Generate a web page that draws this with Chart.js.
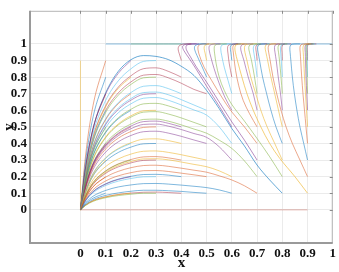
<!DOCTYPE html>
<html><head><meta charset="utf-8">
<script src="https://cdn.jsdelivr.net/npm/chart.js@4.4.1/dist/chart.umd.min.js"></script>
<style>html,body{margin:0;padding:0;background:#fff}</style>
</head><body>
<canvas id="c" width="339" height="272"></canvas>
<script>
// ---- tick values / labels ----
const xTicks=[0,0.1,0.2,0.3,0.4,0.5,0.6,0.7,0.8,0.9,1];
const xTickLabels=['0','0.1','0.2','0.3','0.4','0.5','0.6','0.7','0.8','0.9','1'];
const yTicks=[0,0.1,0.2,0.3,0.4,0.5,0.6,0.7,0.8,0.9,1];
const yTickLabels=['0','0.1','0.2','0.3','0.4','0.5','0.6','0.7','0.8','0.9','1'];

// ---- shared x sampling for trajectories that end at the origin ----
const xGrid=[0,0.02,0.05,0.1,0.15,0.2,0.25,0.3,0.35,0.4,0.45,0.5,0.55,0.6,0.65,0.7,0.75,0.8];

// trajectories starting at x0=0.1
const arcs01=[[0,.036,.07,.1],[0,.072,.14,.2],[0,.108,.21,.3],[0,.144,.28,.4],[0,.18,.35,.5],[0,.216,.42,.6],[0,.252,.49,.7],[0,.288,.56,.8],[0,.324,.63,.9]];
// x0=0.2
const arcs02=[[0,.028,.054,.078,.092,.1],[0,.055,.109,.155,.183,.2],[0,.083,.163,.233,.275,.3],[0,.111,.217,.311,.366,.4],[0,.138,.271,.388,.457,.5],[0,.166,.326,.466,.549,.6],[0,.194,.38,.544,.64,.7],[0,.222,.434,.621,.732,.8],[0,.249,.489,.699,.823,.9]];
// x0=0.3
const arcs03=[[0,.026,.051,.073,.086,.094,.1,.1],[0,.052,.103,.147,.173,.189,.199,.2],[0,.078,.154,.22,.259,.283,.298,.3],[0,.104,.205,.293,.346,.378,.398,.4],[0,.131,.256,.367,.432,.472,.497,.5],[0,.157,.308,.44,.518,.567,.597,.6],[0,.183,.359,.514,.605,.661,.696,.7],[0,.209,.41,.587,.691,.756,.796,.8],[0,.235,.462,.66,.778,.85,.895,.9]];
// x0=0.4
const arcs04=[[0,.028,.055,.078,.092,.101,.106,.107,.104,.1],[0,.056,.11,.157,.185,.202,.213,.214,.209,.2],[0,.084,.165,.235,.277,.303,.319,.321,.313,.3],[0,.112,.219,.314,.37,.404,.426,.428,.417,.4],[0,.14,.274,.392,.462,.505,.532,.535,.521,.5],[0,.168,.329,.471,.555,.606,.639,.642,.626,.6],[0,.196,.384,.549,.647,.707,.745,.749,.73,.7],[0,.224,.439,.628,.74,.808,.851,.856,.834,.8]];
// x0=0.5
const arcs05=[[0,.031,.061,.087,.102,.112,.118,.118,.115,.111,.105,.1],[0,.062,.121,.174,.205,.224,.236,.237,.231,.221,.211,.2],[0,.093,.182,.261,.307,.336,.353,.355,.346,.332,.316,.3],[0,.124,.243,.348,.41,.448,.471,.474,.462,.443,.421,.4],[0,.155,.304,.435,.512,.559,.589,.592,.577,.554,.527,.5],[0,.186,.364,.521,.614,.671,.707,.71,.693,.664,.632,.6],[0,.213,.418,.599,.705,.771,.812,.816,.795,.763,.726,.7]];
// x0>=0.6 ending at origin
const arcsRight=[[0,.042,.082,.117,.138,.15,.158,.159,.155,.149,.142,.134,.12,.1],[0,.07,.138,.197,.232,.254,.267,.269,.262,.251,.239,.227,.205,.18,.145,.1],[0,.081,.158,.226,.267,.291,.307,.308,.301,.288,.274,.26,.235,.2],[0,.135,.265,.38,.447,.489,.515,.517,.504,.484,.46,.437,.38,.3],[0,.143,.281,.402,.473,.517,.545,.547,.534,.512,.487,.462,.42,.37,.295,.2],[0,.177,.347,.496,.585,.639,.673,.677,.66,.632,.602,.571,.5,.4],[0,.25,.49,.705,.835,.905,.93,.925,.905,.865,.81,.72,.61,.49,.385,.27,.18,.1]];

// ---- trajectories that climb to y=1 ([x,y] pairs) ----
const topPaths=[
[[0.4,0.9],[0.392,0.94],[0.387,0.97],[0.392,0.99],[0.41,1],[0.44,1]],
[[0.6,0.5],[0.55,0.625],[0.5,0.745],[0.46,0.845],[0.43,0.915],[0.41,0.96],[0.405,0.985],[0.415,0.997],[0.435,1],[0.46,1]],
[[0.7,0.3],[0.65,0.42],[0.6,0.53],[0.55,0.65],[0.5,0.77],[0.46,0.86],[0.435,0.925],[0.42,0.965],[0.42,0.99],[0.44,1],[0.47,1]],
[[0.5,0.8],[0.48,0.87],[0.462,0.93],[0.452,0.97],[0.455,0.99],[0.475,1],[0.5,1]],
[[0.7,0.4],[0.65,0.5],[0.6,0.59],[0.56,0.68],[0.52,0.78],[0.49,0.86],[0.473,0.925],[0.466,0.965],[0.468,0.99],[0.485,1],[0.51,1]],
[[0.5,0.9],[0.494,0.945],[0.49,0.975],[0.494,0.993],[0.51,1],[0.535,1]],
[[0.6,0.6],[0.572,0.68],[0.548,0.77],[0.53,0.85],[0.517,0.92],[0.51,0.965],[0.512,0.99],[0.53,1],[0.555,1]],
[[0.8,0.2],[0.75,0.32],[0.7,0.43],[0.65,0.535],[0.6,0.635],[0.57,0.72],[0.55,0.8],[0.538,0.88],[0.532,0.94],[0.53,0.975],[0.534,0.993],[0.555,1],[0.58,1]],
[[0.6,0.7],[0.585,0.78],[0.57,0.86],[0.56,0.93],[0.556,0.97],[0.56,0.992],[0.58,1],[0.6,1]],
[[0.9,0.1],[0.85,0.2],[0.79,0.31],[0.75,0.4],[0.715,0.5],[0.685,0.6],[0.66,0.7],[0.64,0.8],[0.622,0.9],[0.614,0.95],[0.612,0.978],[0.617,0.995],[0.637,1],[0.66,1]],
[[0.6,0.8],[0.59,0.88],[0.585,0.94],[0.583,0.975],[0.587,0.993],[0.605,1],[0.625,1]],
[[0.6,0.9],[0.596,0.95],[0.594,0.978],[0.598,0.994],[0.615,1],[0.635,1]],
[[0.7,0.5],[0.67,0.58],[0.645,0.66],[0.627,0.75],[0.615,0.84],[0.608,0.92],[0.605,0.96],[0.604,0.98],[0.608,0.995],[0.625,1],[0.65,1]],
[[0.8,0.3],[0.77,0.4],[0.74,0.5],[0.715,0.6],[0.695,0.7],[0.675,0.8],[0.66,0.9],[0.652,0.95],[0.65,0.978],[0.655,0.995],[0.675,1],[0.7,1]],
[[0.7,0.6],[0.685,0.7],[0.665,0.8],[0.648,0.9],[0.638,0.95],[0.635,0.978],[0.64,0.995],[0.66,1],[0.685,1]],
[[0.7,0.7],[0.69,0.8],[0.678,0.9],[0.67,0.95],[0.667,0.978],[0.672,0.995],[0.69,1],[0.715,1]],
[[0.7,0.8],[0.694,0.88],[0.688,0.94],[0.685,0.975],[0.69,0.994],[0.705,1],[0.73,1]],
[[0.7,0.9],[0.697,0.95],[0.695,0.978],[0.699,0.995],[0.715,1],[0.74,1]],
[[0.8,0.4],[0.775,0.5],[0.755,0.6],[0.738,0.7],[0.722,0.8],[0.71,0.9],[0.704,0.95],[0.702,0.978],[0.707,0.995],[0.725,1],[0.75,1]],
[[0.9,0.2],[0.87,0.3],[0.84,0.4],[0.815,0.5],[0.795,0.6],[0.778,0.7],[0.763,0.8],[0.752,0.9],[0.746,0.95],[0.744,0.978],[0.748,0.995],[0.765,1],[0.79,1]],
[[0.8,0.5],[0.785,0.6],[0.77,0.7],[0.755,0.8],[0.742,0.9],[0.735,0.95],[0.732,0.978],[0.736,0.995],[0.752,1],[0.775,1]],
[[0.8,0.6],[0.793,0.7],[0.784,0.8],[0.776,0.9],[0.771,0.95],[0.769,0.978],[0.773,0.995],[0.79,1],[0.81,1]],
[[0.8,0.7],[0.795,0.8],[0.789,0.9],[0.785,0.95],[0.783,0.978],[0.787,0.995],[0.802,1],[0.82,1]],
[[0.8,0.8],[0.797,0.88],[0.794,0.94],[0.793,0.975],[0.797,0.994],[0.81,1],[0.83,1]],
[[0.8,0.9],[0.799,0.95],[0.798,0.978],[0.802,0.995],[0.815,1],[0.835,1]],
[[0.9,0.3],[0.885,0.4],[0.87,0.5],[0.858,0.6],[0.848,0.7],[0.84,0.8],[0.834,0.9],[0.831,0.95],[0.83,0.978],[0.834,0.995],[0.85,1],[0.87,1]],
[[0.9,0.4],[0.894,0.5],[0.888,0.6],[0.882,0.7],[0.877,0.8],[0.873,0.9],[0.871,0.95],[0.87,0.978],[0.874,0.995],[0.888,1],[0.905,1]],
[[0.9,0.5],[0.896,0.6],[0.892,0.7],[0.888,0.8],[0.885,0.9],[0.883,0.95],[0.882,0.978],[0.886,0.995],[0.898,1],[0.915,1]],
[[0.9,0.6],[0.897,0.7],[0.894,0.8],[0.892,0.9],[0.891,0.95],[0.89,0.978],[0.893,0.995],[0.904,1],[0.92,1]],
[[0.9,0.7],[0.898,0.8],[0.896,0.9],[0.895,0.95],[0.894,0.978],[0.897,0.995],[0.907,1],[0.925,1]],
[[0.9,0.8],[0.899,0.88],[0.898,0.94],[0.897,0.975],[0.9,0.994],[0.91,1],[0.93,1]],
[[0.9,0.9],[0.9,0.95],[0.899,0.978],[0.902,0.995],[0.912,1],[0.935,1]]
];

// ---- trajectories lying on the edges ----
const edgeX0=[[0,0],[0,0.9]];
const edgeY0=[[0,0],[0.9,0]];
const edgeTop=[[0.1,1],[1,1]];
const edgeTop2=[[0.2,1],[0.4,1]];

// ---- styling ----
const palette=['rgba(0,114,189,0.5)','rgba(217,83,25,0.5)','rgba(237,177,32,0.55)','rgba(126,47,142,0.5)','rgba(119,172,48,0.5)','rgba(77,190,238,0.55)','rgba(162,20,47,0.45)'];
let ci=0;
const nextColor=()=>palette[(ci++)%palette.length];
const datasets=[];
function addPairs(pairs,color,mono){
  datasets.push({data:pairs.map(p=>({x:p[0],y:p[1]})),borderColor:color||nextColor(),borderWidth:1,pointRadius:0,showLine:true,fill:false,
    tension:mono?0:0.35,cubicInterpolationMode:mono?'monotone':'default'});
}
function addGrid(ys,color){
  addPairs(ys.map((y,i)=>[xGrid[i],y]),color,true);
}
[arcs01,arcs02,arcs03,arcs04,arcs05].forEach(g=>g.forEach(ys=>addGrid(ys)));
arcsRight.forEach((ys,i)=>addGrid(ys,i===arcsRight.length-1?'rgba(0,114,189,0.6)':null));
topPaths.forEach((p,i)=>addPairs(p,(i===1||i===2)?'rgba(126,47,142,0.55)':(i===9?'rgba(237,177,32,0.6)':null)));
addPairs(edgeTop,'rgba(0,114,189,0.45)');
addPairs(edgeTop2,'rgba(160,200,110,0.6)');
addPairs(edgeX0,'rgba(237,177,32,0.45)');
addPairs(edgeY0,'rgba(205,120,110,0.55)');

const boxPlugin={id:'box',afterDatasetsDraw(chart){
  const {ctx,chartArea:a,scales:{x,y}}=chart;
  ctx.save();
  ctx.strokeStyle='#b4b4b4';ctx.lineWidth=1;
  ctx.beginPath();
  ctx.moveTo(a.left,a.top+0.5);ctx.lineTo(a.right,a.top+0.5);
  ctx.moveTo(a.right-0.5,a.top);ctx.lineTo(a.right-0.5,a.bottom);
  ctx.stroke();
  ctx.strokeStyle='#8a8a8a';
  ctx.beginPath();
  xTicks.forEach(v=>{const px=Math.round(x.getPixelForValue(v))+0.5;ctx.moveTo(px,a.top);ctx.lineTo(px,a.top+3);});
  yTicks.forEach(v=>{const py=Math.round(y.getPixelForValue(v))+0.5;ctx.moveTo(a.right,py);ctx.lineTo(a.right-3,py);});
  ctx.stroke();
  ctx.strokeStyle='#9a9a9a';ctx.lineWidth=2;
  ctx.beginPath();
  ctx.moveTo(a.left,a.top);ctx.lineTo(a.left,a.bottom);ctx.lineTo(a.right,a.bottom);
  ctx.stroke();
  ctx.restore();
}};

const tickFont={family:'Liberation Serif',weight:'bold',size:13};
new Chart(document.getElementById('c'),{
  type:'scatter',
  data:{datasets},
  options:{
    responsive:false,animation:false,devicePixelRatio:1,
    layout:{padding:{left:0,right:1,top:2,bottom:0}},
    plugins:{legend:{display:false},tooltip:{enabled:false}},
    scales:{
      x:{type:'linear',min:-0.2,max:1,
        afterBuildTicks:s=>{s.ticks=xTicks.map(v=>({value:v}));},
        afterFit:s=>{s.height=29;},
        ticks:{autoSkip:false,maxRotation:0,padding:3,color:'#111',font:tickFont,callback:(v,i)=>xTickLabels[i]},
        grid:{color:'#ebebeb',drawTicks:false},
        border:{display:false},
        title:{display:true,text:'x',color:'#111',font:{family:'Liberation Serif',weight:'bold',size:15},padding:{top:0,bottom:0}}
      },
      y:{type:'linear',min:-0.2,max:1.2,
        afterBuildTicks:s=>{s.ticks=yTicks.map(v=>({value:v}));},
        afterFit:s=>{s.width=30;},
        ticks:{autoSkip:false,padding:3,color:'#111',font:tickFont,callback:(v,i)=>yTickLabels[i]},
        grid:{color:'#ebebeb',drawTicks:false},
        border:{display:false},
        title:{display:true,text:'y',color:'#111',font:{family:'Liberation Serif',weight:'bold',size:15},padding:{top:0,bottom:0}}
      }
    }
  },
  plugins:[boxPlugin]
});
</script>
</body></html>
